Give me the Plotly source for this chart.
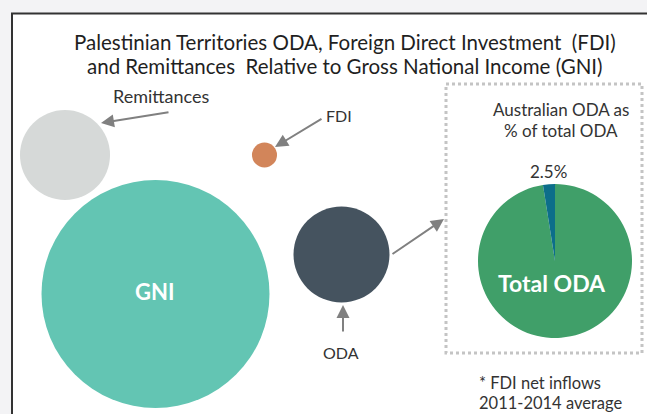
import plotly.graph_objects as go

# Flows to the Palestinian Territories (US$ billion, 2011-2014 average)
flow_names = ["GNI", "Remittances", "ODA", "FDI"]
flow_values = [14.1, 2.2, 2.5, 0.17]

# Australian share of total ODA (%)
oda_parts = ["Other ODA", "Australian ODA"]
aus_share = 2.5
oda_shares = [100 - aus_share, aus_share]

W, H = 647, 414
FONT = "Lato"

# bubble centres in canvas pixels (x right, y down)
centres = {"GNI": (155.5, 294), "Remittances": (65, 155), "ODA": (341.5, 254.5), "FDI": (264.5, 155)}
colours = {"GNI": "#63c5b3", "Remittances": "#d6d9d8", "ODA": "#45535f", "FDI": "#d2855a"}

max_diam = 228  # pixel diameter of the largest bubble
sizeref = 2 * max(flow_values) / max_diam ** 2

fig = go.Figure()
fig.add_trace(go.Scatter(
    x=[centres[n][0] for n in flow_names],
    y=[centres[n][1] for n in flow_names],
    mode="markers",
    marker=dict(size=flow_values, sizemode="area", sizeref=sizeref,
                color=[colours[n] for n in flow_names], line=dict(width=0), opacity=1),
    hoverinfo="skip", showlegend=False, cliponaxis=False,
))

# pie: Australian share of total ODA
px0, px1, py0, py1 = 478, 632, 184, 338
fig.add_trace(go.Pie(
    labels=oda_parts, values=oda_shares, sort=False, direction="clockwise", rotation=0,
    marker=dict(colors=["#409f69", "#0c6e8a"], line=dict(width=0)),
    textinfo="none", hoverinfo="skip", showlegend=False,
    domain=dict(x=[px0 / W, px1 / W], y=[1 - py1 / H, 1 - py0 / H]),
))

shapes = [
    dict(type="rect", xref="x", yref="y", x0=12, y0=13.5, x1=700, y1=460,
         fillcolor="white", line=dict(color="#333333", width=2), layer="below"),
    dict(type="rect", xref="x", yref="y", x0=446, y0=84, x1=642, y1=353,
         fillcolor="rgba(0,0,0,0)", line=dict(color="#c4c4c4", width=3, dash="dot"), layer="below"),
]

def txt(x, y, s, size=17, color="#333333", bold=False, xanchor="center"):
    return dict(x=x, y=y, xref="x", yref="y", text=f"<b>{s}</b>" if bold else s, showarrow=False,
                xanchor=xanchor, yanchor="middle", font=dict(family=FONT, size=size, color=color))

def arrow(x0, y0, x1, y1):
    return dict(x=x1, y=y1, ax=x0, ay=y0, xref="x", yref="y", axref="x", ayref="y", text="",
                showarrow=True, arrowhead=2, arrowsize=1.3, arrowwidth=2, arrowcolor="#808080")

annotations = [
    txt(345, 42, "Palestinian Territories ODA, Foreign Direct Investment  (FDI)", size=20.5, color="#1f1f1f"),
    txt(345, 66, "and Remittances  Relative to Gross National Income (GNI)", size=20.5, color="#1f1f1f"),
    txt(161, 96, "Remittances", size=18),
    txt(339, 115, "FDI", size=16),
    txt(341, 352, "ODA", size=16),
    txt(561, 109, "Australian ODA as"),
    txt(561, 130, "% of total ODA"),
    txt(548, 171, f"{aus_share}%", size=17),
    txt(centres["GNI"][0] - 1, 291, "GNI", size=22, color="white", bold=True),
    txt(552, 283, "Total ODA", size=23, color="white", bold=True),
    txt(477, 383, "* FDI net inflows", size=16.5, xanchor="left"),
    txt(477, 403, "2011-2014 average", size=16.5, xanchor="left"),
    arrow(170, 112, 101, 123),
    arrow(323, 118, 275, 147),
    arrow(343, 333, 343, 305),
    arrow(391, 255, 444, 219),
]

fig.update_layout(
    width=W, height=H, margin=dict(l=0, r=0, t=0, b=0),
    paper_bgcolor="#f3f3f5", plot_bgcolor="rgba(0,0,0,0)",
    xaxis=dict(range=[0, W], visible=False, fixedrange=True),
    yaxis=dict(range=[H, 0], visible=False, fixedrange=True),
    shapes=shapes, annotations=annotations,
)

fig.write_html("out.html", config={"displayModeBar": False})
